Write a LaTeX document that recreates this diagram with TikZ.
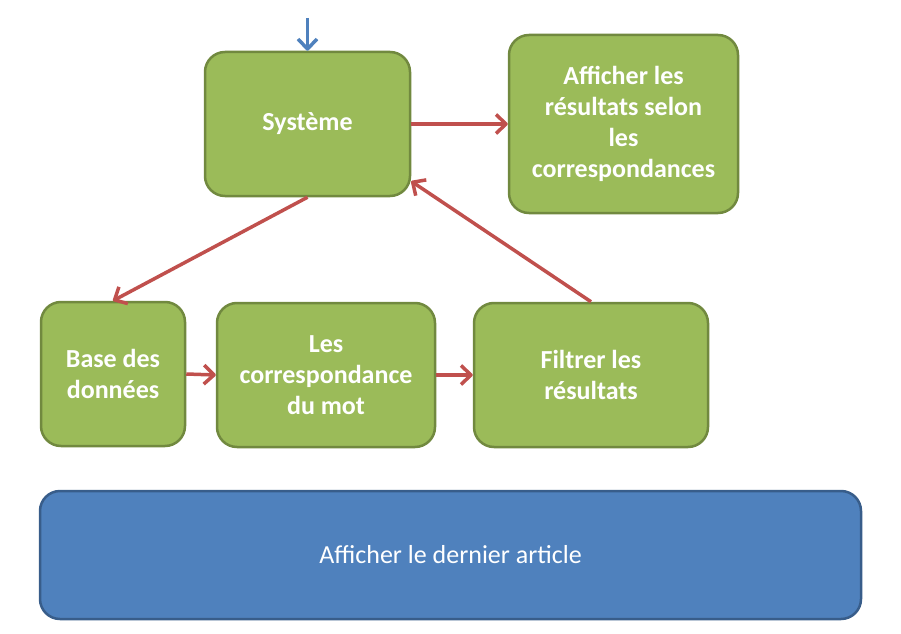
\documentclass[tikz,border=0pt]{standalone}
\usepackage{fontspec}
\setmainfont{Carlito}
\usetikzlibrary{arrows.meta,calc}
\definecolor{gfill}{HTML}{9BBB59}
\definecolor{gdraw}{HTML}{71893F}
\definecolor{bfill}{HTML}{4F81BD}
\definecolor{bdraw}{HTML}{385D8A}
\definecolor{rarrow}{HTML}{C0504D}
\tikzset{
  gbox/.style={draw=gdraw, fill=gfill, line width=2.5pt, rounded corners=20pt,
    text=white, font=\fontsize{26}{31}\selectfont\bfseries, align=center, inner sep=0pt},
  bbox/.style={draw=bdraw, fill=bfill, line width=2.5pt, rounded corners=20pt,
    text=white, font=\fontsize{26}{31}\selectfont, align=center, inner sep=0pt},
  rarr/.style={draw=rarrow, line width=3.5pt, -{Straight Barb[length=10pt,width=19pt,line join=round]}},
  barr/.style={draw=bfill, line width=3.5pt, -{Straight Barb[length=10pt,width=19pt,line join=round]}}
}
\begin{document}
\begin{tikzpicture}[x=1pt,y=1pt]
\useasboundingbox (0,0) rectangle (901,633);
\node[gbox, minimum width=205pt, minimum height=144pt] (sys) at (307.5,509) {Système};
\node[gbox, minimum width=229pt, minimum height=178pt] (aff) at (623.5,509) {Afficher les\\résultats selon\\les\\correspondances};
\node[gbox, minimum width=144pt, minimum height=144pt] (base) at (113,259) {Base des\\données};
\node[gbox, minimum width=218pt, minimum height=144pt] (corr) at (326,258) {Les\\correspondance\\du mot};
\node[gbox, minimum width=234pt, minimum height=144pt] (filt) at (591,258) {Filtrer les\\résultats};
\node[bbox, minimum width=821pt, minimum height=128pt] (last) at (450.5,78) {Afficher le dernier article};
\coordinate (in) at (307.5,615);
\draw[barr] (in) -- (sys.north);
\draw[rarr] (sys.east) -- (aff.west);
\draw[rarr] (sys.south) -- (base.north);
\draw[rarr] (base.east) -- (corr.west);
\draw[rarr] (corr.east) -- (filt.west);
\draw[rarr] (filt.north) -- ($(sys.south east)+(0,16)$);
\end{tikzpicture}
\end{document}
